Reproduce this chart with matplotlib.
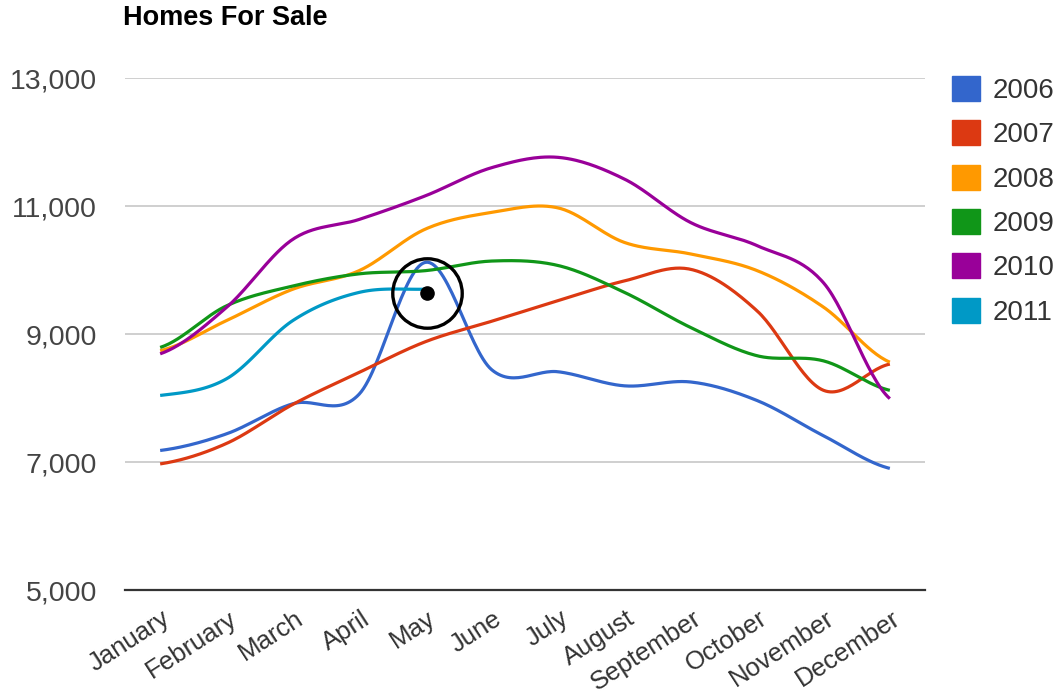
import numpy as np
import matplotlib
matplotlib.use('Agg')
import matplotlib.pyplot as plt
from matplotlib.patches import Patch
from matplotlib.transforms import offset_copy, ScaledTranslation

months = ['January', 'February', 'March', 'April', 'May', 'June', 'July',
          'August', 'September', 'October', 'November', 'December']
years = ['2006', '2007', '2008', '2009', '2010', '2011']

homes_2006 = [7180, 7440, 7910, 8060, 10120, 8440, 8410, 8190, 8250, 7960, 7410, 6900]
homes_2007 = [6970, 7290, 7900, 8400, 8880, 9200, 9520, 9830, 10010, 9360, 8120, 8530]
homes_2008 = [8740, 9210, 9700, 9990, 10640, 10900, 10970, 10430, 10250, 9990, 9420, 8560]
homes_2009 = [8790, 9440, 9750, 9940, 9990, 10140, 10070, 9650, 9100, 8660, 8580, 8120]
homes_2010 = [8690, 9415, 10480, 10790, 11160, 11600, 11760, 11420, 10740, 10380, 9800, 7990]
homes_2011 = [8040, 8300, 9210, 9650, 9700]

colors = ['#3366cc', '#dc3912', '#ff9900', '#109618', '#990099', '#0099c6']
series = [homes_2006, homes_2007, homes_2008, homes_2009, homes_2010, homes_2011]

plt.rcParams['font.family'] = ['Liberation Sans', 'DejaVu Sans']


def smooth(values, steps=30):
    # catmull-rom curve through the points, like the google "function" curve
    y = np.asarray(values, dtype=float)
    x = np.arange(len(y), dtype=float)
    m = np.zeros_like(y)
    m[1:-1] = (y[2:] - y[:-2]) / 2
    m[0] = (y[1] - y[0]) / 2
    m[-1] = (y[-1] - y[-2]) / 2
    xs, ys = [], []
    for i in range(len(y) - 1):
        t = np.linspace(0, 1, steps, endpoint=False)
        h00 = 2 * t**3 - 3 * t**2 + 1
        h10 = t**3 - 2 * t**2 + t
        h01 = -2 * t**3 + 3 * t**2
        h11 = t**3 - t**2
        xs.append(x[i] + t)
        ys.append(h00 * y[i] + h10 * m[i] + h01 * y[i + 1] + h11 * m[i + 1])
    xs.append([x[-1]])
    ys.append([y[-1]])
    return np.concatenate(xs), np.concatenate(ys)


fig = plt.figure(figsize=(10.62, 6.96), dpi=100)
ax = fig.add_axes([125 / 1062, 1 - 590 / 696, 800 / 1062, 512 / 696])

for vals, c in zip(series, colors):
    xs, ys = smooth(vals)
    ax.plot(xs, ys, color=c, lw=2.3, solid_capstyle='butt', zorder=3)

# highlight on the last 2011 point
tr = offset_copy(ax.transData, fig=fig, x=2, y=-4, units='dots')
ax.plot([len(homes_2011) - 1], [homes_2011[-1]], 'o', ms=50, mfc='none',
        mec='black', mew=2.4, transform=tr, zorder=5)
ax.plot([len(homes_2011) - 1], [homes_2011[-1]], 'o', ms=9.5, color='black',
        transform=tr, zorder=5)

ax.set_xlim(-0.53, 11.53)
ax.set_ylim(5000, 13000)
ax.set_yticks([5000, 7000, 9000, 11000, 13000])
ax.set_yticklabels(['5,000', '7,000', '9,000', '11,000', '13,000'])
ax.set_xticks(range(12))
ax.set_xticklabels(months, rotation=33, ha='right', va='center',
                   rotation_mode='anchor')
ax.tick_params(axis='y', length=0, pad=20, labelsize=20.5, labelcolor='#444444')
ax.tick_params(axis='x', length=0, pad=19, labelsize=18.5, labelcolor='#333333')
shift = ScaledTranslation(8 / 100, 0, fig.dpi_scale_trans)
for lbl in ax.get_xticklabels():
    lbl.set_transform(lbl.get_transform() + shift)

ax.grid(axis='y', color='#cccccc', lw=1.3)
ax.set_axisbelow(True)
for s in ['left', 'right', 'top']:
    ax.spines[s].set_visible(False)
ax.spines['bottom'].set_color('#333333')
ax.spines['bottom'].set_linewidth(1.6)

fig.text(123 / 1062, 1 - 18 / 696, 'Homes For Sale', fontsize=19.5,
         fontweight='bold', va='center', ha='left')

handles = [Patch(facecolor=c, edgecolor=c) for c in colors]
fig.legend(handles, years, loc='upper left',
           bbox_to_anchor=(952 / 1062, 1 - 76 / 696), frameon=False,
           fontsize=20, handlelength=1.0, handleheight=1.0,
           handletextpad=0.45, labelspacing=0.59, borderpad=0,
           borderaxespad=0, labelcolor='#333333')

fig.savefig('out.png', dpi=100)
